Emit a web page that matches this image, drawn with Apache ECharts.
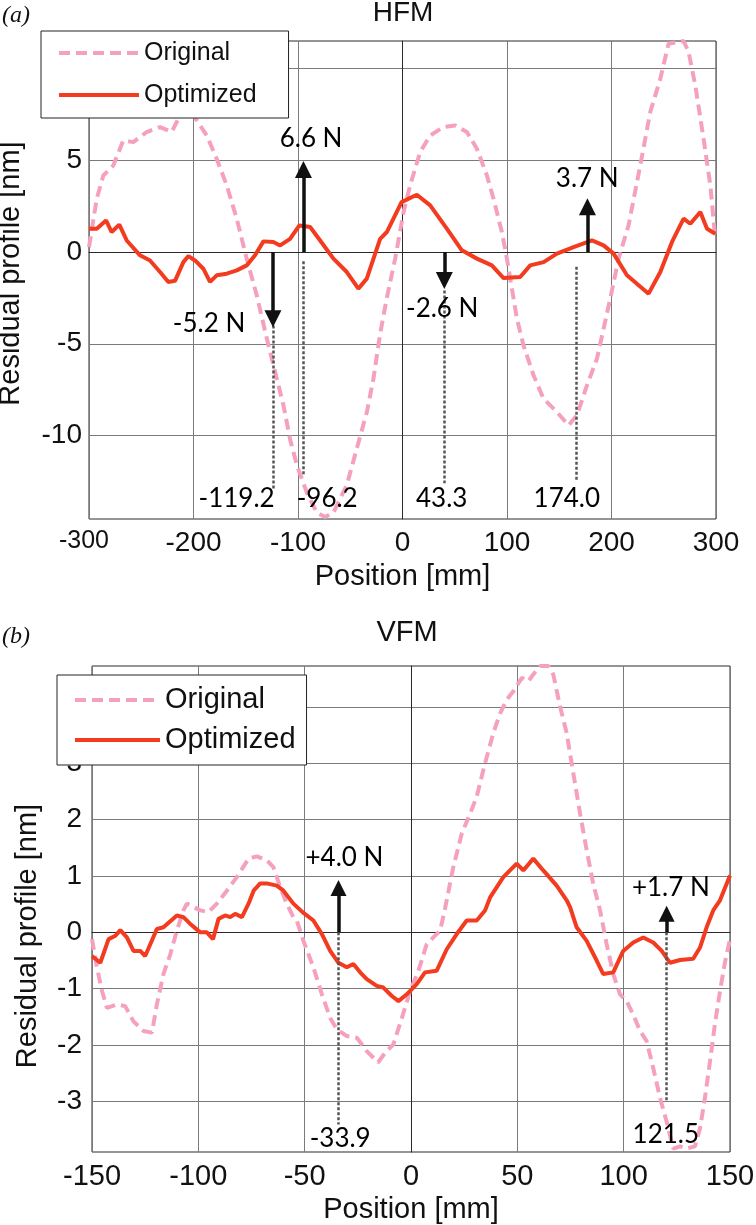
<!DOCTYPE html>
<html>
<head>
<meta charset="utf-8">
<script src="https://cdn.jsdelivr.net/npm/echarts@6/dist/echarts.min.js"></script>
<style>
html,body{margin:0;padding:0;background:#fff;}
#chart{width:756px;height:1225px;}
</style>
</head>
<body>
<div id="chart"></div>
<script>
// ---------- HFM (panel a) ----------
const hfmOrigX = [-300,-292.6,-286.3,-276.7,-267.2,-257.6,-244.8,-232,-220.9,-212.9,-205,-196.9,-187.3,-177.8,-168.2,-158.6,-149.1,-139.5,-129.9,-120.3,-113.9,-107.6,-101.2,-91.6,-82,-74,-66.1,-53.3,-43.7,-34.1,-27.8,-21.4,-15,-7,1,7.3,16.9,26.5,39.2,50.4,61.6,71.2,80.8,87.1,95.1,99.9,104.7,109.5,115.8,125.4,135,147.8,158.9,166.9,176.5,186.1,192.4,198.8,206.8,216.3,227.5,237.1,246.7,254.6,262.7,269,273.8,280.2,288.1,294.6,299.3];
const hfmOrigY = [0.27,2.9,4.17,4.72,6.08,5.99,6.54,6.81,6.54,7.44,7.9,7.17,6.35,5.08,3.63,1.81,-0.36,-2.36,-4.7,-6.9,-8.36,-10.2,-11.6,-13.1,-14.2,-14.44,-14.2,-12.7,-10.7,-8.72,-6.9,-4.45,-2.5,-0.36,2.18,3.63,5.45,6.35,6.81,6.9,6.54,5.63,4.17,2.9,1.09,-0.36,-2.0,-3.63,-5.09,-6.72,-8.0,-8.72,-9.45,-8.9,-7.27,-5.81,-4.18,-2.54,-0.36,1.45,4.72,7.63,9.44,11.35,11.44,11.5,10.9,9.08,6.17,3.63,0.72];
const hfmOptX = [-300,-292.6,-283.7,-278.3,-271,-263.9,-251.2,-241.6,-232,-224.1,-217.7,-209.7,-204.9,-198.5,-190.6,-184.2,-177.8,-168.2,-158.6,-149.1,-141.1,-133.1,-123.6,-117.1,-107.6,-98.7,-88.4,-78.8,-66.1,-53.3,-42.2,-34.2,-21.4,-15,-0.9,13.7,26.5,42.4,56.8,71.2,85.5,96.7,112.6,122.2,135,147.8,163.7,181.3,192.4,202,214.8,224.3,235.5,246.7,257.9,269,275.4,285,291.4,299.3];
const hfmOptY = [1.27,1.27,1.72,1.09,1.49,0.63,-0.18,-0.46,-1.09,-1.63,-1.57,-0.55,-0.22,-0.46,-0.91,-1.63,-1.27,-1.18,-1.0,-0.73,-0.18,0.58,0.55,0.36,0.72,1.45,1.36,0.63,-0.36,-1.09,-2.0,-1.45,0.72,1.09,2.72,3.12,2.54,1.27,0.09,-0.36,-0.73,-1.42,-1.36,-0.73,-0.55,-0.09,0.27,0.63,0.36,-0.09,-1.27,-1.73,-2.27,-1.09,0.55,1.82,1.54,2.18,1.27,1.0];
const hfmYTicks = [-10,-5,0,5,10];
// force arrows (shaft x, head centre y), guide lines, labels
const hfmArrowX = [-124,-94.8,40,177];
const hfmArrowHead = [-3.63,4.5,-1.55,2.47];
const hfmGuideX = [-124,-95.4,39.9,166.2];
const hfmGuideTop = [-4.0,-0.5,-2.1,-0.8];
const hfmGuideBottom = [-12.9,-12.2,-12.6,-12.45];
const hfmForceText = ['-5.2 N','6.6 N','-2.6 N','3.7 N'];
const hfmForceTextX = [-185.1,-87.5,38,176.8];
const hfmForceTextY = [-3.9,6.17,-3.09,4.0];
const hfmPosText = ['-119.2','-96.2','43.3','174.0'];
const hfmPosTextX = [-158.8,-72.1,37.5,157.2];
const hfmPosTextY = [-13.45,-13.45,-13.45,-13.45];

// ---------- VFM (panel b) ----------
const vfmOrigX = [-150,-147.7,-145.3,-143,-138.3,-134.4,-130.5,-125.8,-121.8,-119.5,-116.4,-113.2,-110.1,-107,-105.4,-103.8,-99.1,-95.2,-91.3,-86.6,-81.9,-76.4,-72.5,-67.8,-64.7,-61.5,-58.4,-55.3,-53.7,-50.6,-45.9,-41.9,-38,-34.9,-30.2,-25.5,-20.8,-15.5,-12.2,-8.3,-4.3,-0.4,3.5,7.4,10.5,13.7,16,19.9,23.9,27.8,30.9,34.8,38.7,41.9,45,48.1,52.1,55.2,57.5,60.7,64.6,66.9,70.1,73.2,76.3,79.5,82.6,85.7,88.9,92,95.1,98.3,101.4,104.5,107.7,110.8,113.9,117.1,120.2,123.3,126.5,129.6,133.5,135.9,138.2,140.6,142.9,145.3,147.6,150];
const vfmOrigY = [-0.12,-0.62,-1.04,-1.34,-1.28,-1.31,-1.58,-1.75,-1.78,-1.28,-0.74,-0.39,0.03,0.39,0.51,0.48,0.39,0.36,0.51,0.74,0.98,1.31,1.35,1.28,1.16,0.8,0.51,0.27,0.21,-0.15,-0.62,-1.1,-1.52,-1.72,-1.84,-1.87,-2.11,-2.31,-2.14,-1.99,-1.52,-1.04,-0.68,-0.21,-0.09,0.03,0.42,1.16,1.76,2.11,2.41,3.0,3.54,3.89,4.13,4.28,4.52,4.46,4.58,4.73,4.73,4.58,4.01,3.54,2.83,2.11,1.46,0.86,0.39,-0.21,-0.74,-1.1,-1.22,-1.46,-1.75,-1.93,-2.41,-2.94,-3.36,-3.84,-3.8,-3.84,-3.8,-3.48,-2.94,-2.29,-1.63,-1.04,-0.54,-0.12];
const vfmOptX = [-150,-146.1,-142.2,-139,-136.7,-133.6,-130.5,-127.3,-125,-122.6,-119.5,-116.4,-110.1,-107,-103.8,-99.1,-96,-93.1,-90.5,-87.4,-85,-82.7,-79.5,-76.4,-74,-70.9,-67.8,-63.1,-60,-55.3,-51,-45.9,-41.9,-38,-34.1,-30.2,-27.1,-23.9,-20.8,-16.1,-13,-9,-5.9,-2,2.7,6.6,12.1,16.8,21.5,26.2,30.9,34.8,37.2,43.4,49.7,52.8,57.5,62.2,68.5,73.2,74.8,77.9,82.6,87.3,90.4,95.1,99.8,104.5,109.2,113.9,117.9,121.8,126.5,132.7,135.9,139,142.1,145.3,150];
const vfmOptY = [-0.42,-0.54,-0.12,-0.06,0.04,-0.09,-0.33,-0.33,-0.42,-0.21,0.06,0.09,0.3,0.27,0.15,0.0,0.0,-0.12,0.24,0.3,0.27,0.33,0.27,0.51,0.74,0.87,0.87,0.83,0.74,0.51,0.36,0.21,-0.03,-0.33,-0.54,-0.62,-0.56,-0.71,-0.83,-0.95,-0.98,-1.13,-1.22,-1.1,-0.92,-0.71,-0.68,-0.3,-0.03,0.21,0.21,0.39,0.62,0.98,1.22,1.1,1.31,1.1,0.83,0.57,0.45,0.09,-0.15,-0.5,-0.74,-0.71,-0.33,-0.18,-0.09,-0.18,-0.33,-0.54,-0.49,-0.47,-0.27,0.09,0.39,0.57,1.01];
const vfmYTicks = [-3,-2,-1,0,1,2,3,4];
const vfmArrowX = [-34.1,120.2];
const vfmArrowHead = [0.79,0.33];
const vfmGuideX = [-34.1,120.2];
const vfmGuideTop = [0,0];
const vfmGuideBottom = [-3.41,-3.0];
const vfmForceText = ['+4.0 N','+1.7 N'];
const vfmForceTextX = [-31.3,122.2];
const vfmForceTextY = [1.32,0.8];
const vfmPosText = ['-33.9','121.5'];
const vfmPosTextX = [-33.3,119.8];
const vfmPosTextY = [-3.66,-3.59];

const zip = (xs, ys) => xs.map((x, i) => [x, ys[i]]);
const SANS = 'Liberation Sans';
const ANNOT = 'Lato';
const PINK = '#f6a0bf';
const RED = '#f23b1f';
const GRID = '#7a7a7a';
const AX = '#2a2a2a';

function arrowLines(xs, heads) {
  return xs.map((x, i) => [{ coord: [x, 0] }, { coord: [x, heads[i]] }]);
}
function guideLines(xs, tops, bottoms) {
  return xs.map((x, i) => [{ coord: [x, tops[i]] }, { coord: [x, bottoms[i]] }]);
}
function textPoints(texts, xs, ys) {
  return texts.map((t, i) => ({ name: t, value: [xs[i], ys[i]] }));
}

function panelSeries(idx, origX, origY, optX, optY, arrowX, arrowHead, gX, gTop, gBot, fT, fX, fY, pT, pX, pY, headSize) {
  return [
    { name: 'Original', type: 'line', xAxisIndex: idx, yAxisIndex: idx, data: zip(origX, origY), symbol: 'none', smooth: false,
      lineStyle: { color: PINK, width: 4, type: [11, 6] }, itemStyle: { color: PINK }, z: 2 },
    { name: 'Optimized', type: 'line', xAxisIndex: idx, yAxisIndex: idx, data: zip(optX, optY), symbol: 'none',
      lineStyle: { color: RED, width: 4 }, itemStyle: { color: RED }, z: 3 },
    { name: 'guides' + idx, type: 'line', xAxisIndex: idx, yAxisIndex: idx, data: [], silent: true,
      markLine: { silent: true, symbol: ['none', 'none'], label: { show: false },
        lineStyle: { color: '#555', width: 2.5, type: [3, 2] }, data: guideLines(gX, gTop, gBot) }, z: 4 },
    { name: 'arrows' + idx, type: 'line', xAxisIndex: idx, yAxisIndex: idx, data: [], silent: true,
      markLine: { silent: true, symbol: ['none', 'triangle'], symbolSize: headSize, label: { show: false },
        lineStyle: { color: '#111', width: 3.5, type: 'solid' }, itemStyle: { color: '#111' }, data: arrowLines(arrowX, arrowHead) }, z: 5 },
    { name: 'labels' + idx, type: 'scatter', xAxisIndex: idx, yAxisIndex: idx, symbolSize: 1, silent: true,
      itemStyle: { color: '#ffffff', opacity: 1 },
      label: { show: true, position: 'inside', formatter: '{b}', fontFamily: ANNOT, fontSize: 26, color: '#000', opacity: 1,
        textBorderWidth: 0 },
      data: textPoints(fT.concat(pT), fX.concat(pX), fY.concat(pY)), z: 6 }
  ];
}

const chart = echarts.init(document.getElementById('chart'), null, { renderer: 'canvas' });

const yAxisCommon = (min, max, ticks, fontSize, margin, nameGap, namePad) => ({
  type: 'value', min: min, max: max,
  name: 'Residual profile [nm]', nameLocation: 'middle', nameGap: nameGap, nameRotate: 90,
  nameTextStyle: { fontFamily: SANS, fontSize: 29, color: '#111', padding: namePad },
  axisLine: { show: true, lineStyle: { color: AX, width: 1 } },
  axisTick: { show: false, customValues: ticks },
  axisLabel: { customValues: ticks, fontFamily: SANS, fontSize: fontSize, color: '#111', margin: margin },
  splitLine: { show: true, lineStyle: { color: GRID, width: 1 } }
});

const legendCommon = {
  data: ['Original', 'Optimized'], orient: 'vertical', selectedMode: false,
  backgroundColor: '#fff', borderColor: '#222', borderWidth: 1, borderRadius: 0,
  itemStyle: { opacity: 0 }, lineStyle: { width: 4 }, itemHeight: 14
};

const option = {
  animation: false,
  backgroundColor: '#ffffff',
  grid: [
    { left: 89, top: 41, width: 627, height: 478, show: true, borderColor: AX, borderWidth: 1, backgroundColor: 'transparent', containLabel: false, outerBoundsMode: 'none' },
    { left: 92, top: 666, width: 638, height: 486, show: true, borderColor: AX, borderWidth: 1, backgroundColor: 'transparent', containLabel: false, outerBoundsMode: 'none' }
  ],
  xAxis: [
    { gridIndex: 0, type: 'value', min: -300, max: 300, interval: 100,
      name: 'Position [mm]', nameLocation: 'middle', nameGap: 43,
      nameTextStyle: { fontFamily: SANS, fontSize: 29, color: '#111' },
      axisLine: { show: true, lineStyle: { color: AX, width: 1 } }, axisTick: { show: false },
      axisLabel: { fontFamily: SANS, fontSize: 28, color: '#111', margin: 10,
        formatter: v => (v === -300 ? '{s|' + v + '}' : String(v)),
        rich: { s: { fontFamily: SANS, fontSize: 25, color: '#111', padding: [0, 10, 0, 0] } } },
      splitLine: { show: true, lineStyle: { color: GRID, width: 1 } } },
    { gridIndex: 1, type: 'value', min: -150, max: 150, interval: 50,
      name: 'Position [mm]', nameLocation: 'middle', nameGap: 43,
      nameTextStyle: { fontFamily: SANS, fontSize: 29, color: '#111' },
      axisLine: { show: true, lineStyle: { color: AX, width: 1 } }, axisTick: { show: false },
      axisLabel: { fontFamily: SANS, fontSize: 29, color: '#111', margin: 10 },
      splitLine: { show: true, lineStyle: { color: GRID, width: 1 } } }
  ],
  yAxis: [
    Object.assign({ gridIndex: 0 }, yAxisCommon(-14.55, 11.5, hfmYTicks, 28, 7, 64, [0, 0, 0, 13])),
    Object.assign({ gridIndex: 1 }, yAxisCommon(-3.9, 4.73, vfmYTicks, 28, 10, 50, [0, 54, 0, 0]))
  ],
  legend: [
    Object.assign({}, legendCommon, { left: 41, top: 31,
      padding: [9, 32, 10, 16], itemGap: 16, itemWidth: 80,
      textStyle: { fontFamily: SANS, fontSize: 25, lineHeight: 26, color: '#111' } }),
    Object.assign({}, legendCommon, { left: 57, top: 675,
      padding: [10, 11, 10, 16], itemGap: 10, itemWidth: 85,
      textStyle: { fontFamily: SANS, fontSize: 29, lineHeight: 30, color: '#111' } })
  ],
  graphic: [
    { type: 'text', x: 403, y: 13, style: { text: 'HFM', fontFamily: SANS, fontSize: 28, fill: '#111', align: 'center', verticalAlign: 'middle' } },
    { type: 'text', x: 407, y: 633, style: { text: 'VFM', fontFamily: SANS, fontSize: 29, fill: '#111', align: 'center', verticalAlign: 'middle' } },
    { type: 'text', x: 2, y: 16, style: { text: '(a)', fontFamily: 'Liberation Serif', fontStyle: 'italic', fontSize: 24, fill: '#111', align: 'left', verticalAlign: 'middle' } },
    { type: 'text', x: 2, y: 637, style: { text: '(b)', fontFamily: 'Liberation Serif', fontStyle: 'italic', fontSize: 24, fill: '#111', align: 'left', verticalAlign: 'middle' } }
  ],
  series: [].concat(
    panelSeries(0, hfmOrigX, hfmOrigY, hfmOptX, hfmOptY, hfmArrowX, hfmArrowHead, hfmGuideX, hfmGuideTop, hfmGuideBottom,
      hfmForceText, hfmForceTextX, hfmForceTextY, hfmPosText, hfmPosTextX, hfmPosTextY, 17),
    panelSeries(1, vfmOrigX, vfmOrigY, vfmOptX, vfmOptY, vfmArrowX, vfmArrowHead, vfmGuideX, vfmGuideTop, vfmGuideBottom,
      vfmForceText, vfmForceTextX, vfmForceTextY, vfmPosText, vfmPosTextX, vfmPosTextY, 16)
  )
};
chart.setOption(option);
</script>
</body>
</html>
